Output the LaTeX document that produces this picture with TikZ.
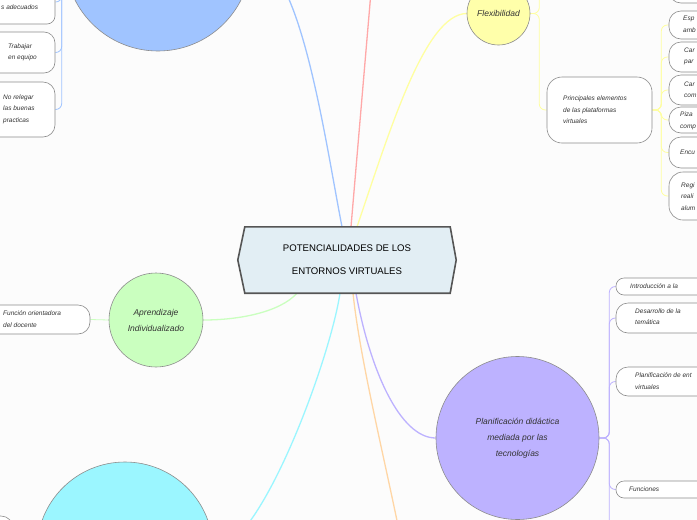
\documentclass[tikz,border=0pt]{standalone}
\usepackage{fontspec}
\setmainfont{Liberation Sans}
\usetikzlibrary{backgrounds}
\definecolor{bgc}{HTML}{FCFCFC}
\definecolor{bordergray}{HTML}{8C8C8C}
\definecolor{txt}{HTML}{333333}
\definecolor{cblue}{HTML}{A0C4FF}
\definecolor{cred}{HTML}{FFA8A8}
\definecolor{cyellow}{HTML}{FFFFAA}
\definecolor{lyellow}{HTML}{FFFFA0}
\definecolor{cgreen}{HTML}{CAFFBF}
\definecolor{ccyan}{HTML}{9BF6FF}
\definecolor{corange}{HTML}{FFD6A5}
\definecolor{cpurple}{HTML}{BDB2FF}
\definecolor{rootfill}{HTML}{E2EEF4}
\definecolor{rootdraw}{HTML}{555555}
\tikzset{
  bubble/.style={circle, draw=bordergray, line width=0.6pt, inner sep=0pt, align=center, text=txt,
    font=\itshape\fontsize{8.5}{16}\selectfont},
  topic/.style={draw=bordergray, fill=white, line width=0.6pt, rounded corners=8pt, inner sep=0pt},
  lbl/.style={font=\itshape\fontsize{6.5}{11.5}\selectfont, text=txt, align=left, inner sep=0pt, anchor=west},
  mainline/.style={line width=1.3pt},
  subline/.style={line width=0.8pt, rounded corners=6pt},
}
\begin{document}
\begin{tikzpicture}[x=1pt,y=-1pt]
\useasboundingbox (0,0) rectangle (697,520);
% circles
\node[bubble, fill=cblue, minimum size=186pt] (blue) at (158,-42) {};
\node[bubble, fill=cyellow, minimum size=63pt] (flex) at (498.5,13.5) {Flexibilidad};
\node[bubble, fill=cgreen, minimum size=94pt] (green) at (156,320) {Aprendizaje\\Individualizado};
\node[bubble, fill=ccyan, minimum size=176pt] (cyan) at (125,550) {};
\node[bubble, fill=cpurple, minimum size=163pt] (plan) at (517.5,438) {Planificación didáctica\\mediada por las\\tecnologías};
% root
\node[minimum width=218pt, minimum height=66pt, inner sep=0pt, align=center, text=black,
  font=\fontsize{9.6}{23}\selectfont] (root) at (347,260) {POTENCIALIDADES DE LOS\\ENTORNOS VIRTUALES};
% blue side boxes
\node[topic, minimum width=95pt, minimum height=44pt] (b1) at (7.5,2) {};
\node[topic, minimum width=95pt, minimum height=41pt, rounded corners=11pt] (b2) at (7.5,52.5) {};
\node[topic, minimum width=95pt, minimum height=55pt, rounded corners=12pt] (b3) at (7.5,109.5) {};
\node[lbl] (b1t) at (1,7) {s adecuados};
\node[lbl] (b2t) at (8,52.5) {Trabajar\\en equipo};
\node[lbl] (b3t) at (3,109) {No relegar\\las buenas\\practicas};
% green box
\node[topic, minimum width=130pt, minimum height=29pt, rounded corners=12pt] (g1) at (25,319.5) {};
\node[lbl] (g1t) at (3,319) {Función orientadora\\del docente};
% bottom-left box
\node[topic, minimum width=93pt, minimum height=44pt, rounded corners=12pt] (c1) at (-33.5,538) {};
% yellow boxes
\node[topic, minimum width=91pt, minimum height=43pt, rounded corners=12pt] (y0) at (714.5,-18.5) {};
\node[topic, minimum width=105pt, minimum height=66pt, rounded corners=15pt] (prin) at (599.5,110) {};
\node[lbl] (print) at (563,110) {Principales elementos\\de las plataformas\\virtuales};
\node[topic, minimum width=91pt, minimum height=28pt, rounded corners=12pt] (y1) at (714.5,25) {};
\node[topic, minimum width=91pt, minimum height=30pt, rounded corners=12pt] (y2) at (714.5,57) {};
\node[topic, minimum width=91pt, minimum height=30pt, rounded corners=12pt] (y3) at (714.5,90) {};
\node[topic, minimum width=91pt, minimum height=26pt, rounded corners=12pt] (y4) at (714.5,120) {};
\node[topic, minimum width=91pt, minimum height=31pt, rounded corners=12pt] (y5) at (714.5,152.5) {};
\node[topic, minimum width=91pt, minimum height=48pt, rounded corners=14pt] (y6) at (714.5,196) {};
\node[lbl] (y1t) at (683,24.5) {Esp\\amb};
\node[lbl] (y2t) at (684,56.5) {Car\\par};
\node[lbl] (y3t) at (684,90) {Car\\com};
\node[lbl] (y4t) at (680,121) {Piza\\comp};
\node[lbl] (y5t) at (680,152) {Encu};
\node[lbl] (y6t) at (681,196.5) {Regi\\reali\\alum};
% purple boxes
\node[topic, minimum width=144pt, minimum height=17pt] (p1) at (688,286.5) {};
\node[topic, minimum width=144pt, minimum height=30pt, rounded corners=12pt] (p2) at (688,318) {};
\node[topic, minimum width=144pt, minimum height=29pt, rounded corners=12pt] (p3) at (688,381.5) {};
\node[topic, minimum width=144pt, minimum height=17pt] (p4) at (688,489.5) {};
\node[lbl] (p1t) at (630,286) {Introducción a la};
\node[lbl] (p2t) at (635,316.5) {Desarrollo de la\\temática};
\node[lbl] (p3t) at (635,381) {Planificación de ent\\virtuales};
\node[lbl] (p4t) at (629,489) {Funciones};
% free ends
\coordinate (redEnd) at (372,-20);
\coordinate (orangeEnd) at (402,545);
\coordinate (flexUp) at (547,-40);
\coordinate (planDown) at (616,560);
\begin{scope}[on background layer]
\fill[bgc] (-100,-100) rectangle (800,620);
% main connectors
\draw[mainline, cblue] ([xshift=-5pt]root.north) .. controls (325,140) and (300,-42) .. (blue.east);
\draw[mainline, cred] ([xshift=4pt]root.north) -- (redEnd);
\draw[mainline, lyellow] ([xshift=10pt]root.north) .. controls (390,130) and (425,14) .. (flex.west);
\draw[mainline, cgreen] ([xshift=-50pt]root.south) .. controls (280,312) and (240,320) .. (green.east);
\draw[mainline, ccyan] ([xshift=-7pt]root.south) .. controls (330,360) and (260,550) .. (cyan.east);
\draw[mainline, corange] ([xshift=6pt]root.south) .. controls (360,360) and (385,460) .. (orangeEnd);
\draw[mainline, cpurple] ([xshift=9pt]root.south) .. controls (370,370) and (400,438) .. (plan.west);
% sub connectors
\foreach \b in {b1,b2,b3}{\draw[subline, cblue] (blue.west) -- ++(-3,0) |- (\b.east);}
\draw[subline, cgreen] (green.west) -- (g1.east);
\draw[subline, lyellow] (flex.east) -- ++(9,0) |- (prin.west);
\draw[subline, lyellow] (flex.east) -- ++(9,0) |- (flexUp);
\foreach \b in {y1,y2,y3,y4,y5,y6}{\draw[subline, lyellow] (prin.east) -- ++(9,0) |- (\b.west);}
\foreach \b in {p1,p2,p3,p4}{\draw[subline, cpurple] (plan.east) -- ++(10,0) |- (\b.west);}
\draw[subline, cpurple] (plan.east) -- ++(10,0) |- (planDown);
% root shape
\draw[fill=rootfill, draw=rootdraw, line width=1.6pt, line join=miter]
  (root.west) -- ([xshift=7pt]root.north west) -- ([xshift=-6pt]root.north east) -- (root.east)
  -- ([xshift=-6pt]root.south east) -- ([xshift=7pt]root.south west) -- cycle;
\end{scope}
\end{tikzpicture}
\end{document}
